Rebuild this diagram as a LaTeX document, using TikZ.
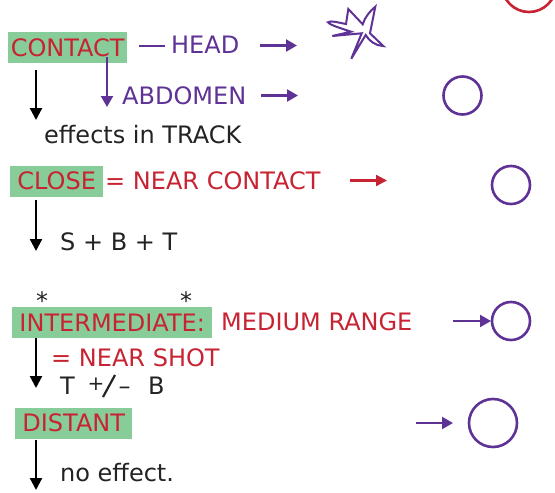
\documentclass[tikz,border=0pt]{standalone}
\usepackage{fontspec}
\setmainfont{DejaVu Sans}
\usetikzlibrary{arrows.meta}
\definecolor{boxgreen}{RGB}{136,204,153}
\definecolor{labelred}{RGB}{200,35,50}
\definecolor{labelpurple}{RGB}{95,50,150}
\definecolor{labelblack}{RGB}{35,35,35}
\tikzset{
  every node/.style={font=\fontsize{24}{27}\selectfont, inner sep=0pt},
  rangebox/.style={fill=boxgreen, text=labelred, minimum height=31pt, anchor=west, text height=17.5pt, text depth=0.5pt},
  redtext/.style={text=labelred, anchor=west},
  purpletext/.style={text=labelpurple, anchor=west},
  blacktext/.style={text=labelblack, anchor=west},
  blackarrow/.style={-{Triangle[length=12pt,width=12pt]}, line width=2.2pt},
  purplearrow/.style={-{Triangle[length=11pt,width=12pt]}, line width=2.2pt, draw=labelpurple},
  redarrow/.style={-{Triangle[length=11pt,width=11pt]}, line width=2.2pt, draw=labelred},
  markcircle/.style={draw=labelpurple, circle, line width=2.6pt, minimum size=#1}
}
\begin{document}
\begin{tikzpicture}[x=1pt, y=-1pt]
    \useasboundingbox (0, 0) rectangle (555, 493);

    % Range boxes
    \node [rangebox, minimum width=119pt, text width=115pt, align=center] (contact) at (8, 47.5) {CONTACT};
    \node [rangebox, minimum width=93pt, text width=89pt, align=center] (close) at (10, 181) {CLOSE};
    \node [rangebox, minimum width=200pt, text width=196pt, align=center] (intermediate) at (12, 322.5) {INTERMEDIATE:};
    \node [rangebox, minimum width=117pt, text width=113pt, align=center] (distant) at (15, 423) {DISTANT};

    % Labels
    \node [purpletext] (head) at (171, 45) {HEAD};
    \node [purpletext] (abdomen) at (122, 95.5) {ABDOMEN};
    \node [blacktext] (track) at (44, 135) {effects in TRACK};
    \node [redtext] (nearcontact) at (105, 181) {= NEAR CONTACT};
    \node [blacktext] (sbt) at (60, 241.5) {S + B + T};
    \node [text=labelblack] (star1) at (42, 301) {*};
    \node [text=labelblack] (star2) at (186, 301) {*};
    \node [redtext] (medium) at (221, 321.5) {MEDIUM RANGE};
    \node [redtext] (nearshot) at (51, 357.5) {= NEAR SHOT};
    \node [blacktext] (tee) at (60, 386) {T};
    \node [text=labelblack, font=\fontsize{20}{22}\selectfont] (plusminus) at (96, 384.5) {+};
    \node [text=labelblack, anchor=base west] (minus) at (118.5, 394.5) {–};
    \node [blacktext] (bee) at (148, 386) {B};
    \node [blacktext] (noeffect) at (60, 473) {no effect.};
    \coordinate (slashtop) at (115, 375);
    \coordinate (slashbot) at (103, 397);
    \draw [line width=2.2pt, labelblack] (slashtop) -- (slashbot);

    % Circles
    \node [markcircle=54pt, draw=labelred] (headtop) at (529, -15) {};
    \node [markcircle=38pt] (abdomencircle) at (462.5, 95.5) {};
    \node [markcircle=38pt] (closecircle) at (511, 185) {};
    \node [markcircle=38pt] (mediumcircle) at (511, 321) {};
    \node [markcircle=48pt] (distantcircle) at (493, 423) {};

    % Burst
    \draw [labelpurple, line width=2pt, line join=miter, fill=white]
      (351, 31.7) .. controls (340, 28) and (330, 25) .. (328, 22.3)
      .. controls (330, 20) and (340, 23) .. (346, 24) -- (348.3, 9) -- (362.7, 24.3)
      .. controls (365, 17) and (370, 11) .. (375.3, 6.7) -- (370, 33.3) -- (383.3, 46)
      .. controls (376, 46) and (369, 41) .. (365.7, 35) -- (351.3, 58.7) -- (361.7, 33.3)
      -- (332.3, 36) -- cycle;

    % Free arrow ends
    \foreach \name/\x/\ya/\yb in {a/36/70/120, b/107/57/107, c/36/200/251, d/36/338/388, e/36/440/490} {
      \coordinate (from\name) at (\x, \ya);
      \coordinate (to\name) at (\x, \yb);
    }
    \foreach \name/\xa/\xb/\y in {f/260/297/45.5, g/261/298/95.5, h/350/387/180.5, i/453/491/321, j/416/453/423} {
      \coordinate (from\name) at (\xa, \y);
      \coordinate (to\name) at (\xb, \y);
    }
    \coordinate (dashstart) at (139, 46);
    \coordinate (dashend) at (165, 46);

    % Connections
    \foreach \name in {a, c, d, e} {
      \draw [blackarrow] (from\name) -- (to\name);
    }
    \foreach \name in {b, f, g, i, j} {
      \draw [purplearrow] (from\name) -- (to\name);
    }
    \draw [redarrow] (fromh) -- (toh);
    \draw [labelpurple, line width=2.2pt] (dashstart) -- (dashend);
  \end{tikzpicture}
\end{document}
